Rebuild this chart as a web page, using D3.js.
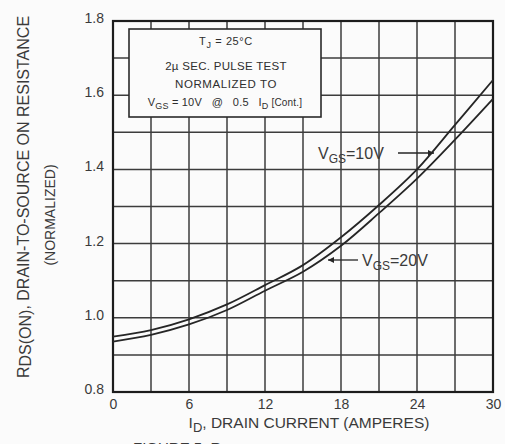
<!DOCTYPE html>
<html>
<head>
<meta charset="utf-8">
<script src="https://cdn.jsdelivr.net/npm/d3@7/dist/d3.min.js"></script>
<style>
  html, body { margin: 0; padding: 0; background: #fbfbfb; }
  svg { display: block; font-family: "Liberation Sans", Arial, sans-serif; }
</style>
</head>
<body>
<svg id="chart" width="505" height="444"></svg>
<script>
// ---- data ----
const current = [0, 3, 6, 9, 12, 15, 18, 21, 24, 27, 30];
const vgs10 = [0.949, 0.967, 0.996, 1.036, 1.088, 1.142, 1.217, 1.304, 1.400, 1.520, 1.641];
const vgs20 = [0.936, 0.954, 0.982, 1.021, 1.073, 1.124, 1.194, 1.282, 1.375, 1.480, 1.590];
const xTicks = [0, 6, 12, 18, 24, 30];
const yTicks = [0.8, 1.0, 1.2, 1.4, 1.6, 1.8];
const xGrid = [0, 3, 6, 9, 12, 15, 18, 21, 24, 27, 30];
const yGrid = [0.8, 0.9, 1.0, 1.1, 1.2, 1.3, 1.4, 1.5, 1.6, 1.7, 1.8];

const svg = d3.select("#chart");
const L = 113, R = 493, T = 21, B = 392;
const x = d3.scaleLinear().domain([0, 30]).range([L, R]);
const y = d3.scaleLinear().domain([0.8, 1.8]).range([B, T]);

const ink = "#262626";
const txt = "#3a3a3a";

// grid
svg.append("g").selectAll("line").data(xGrid).join("line")
  .attr("x1", d => x(d)).attr("x2", d => x(d)).attr("y1", T).attr("y2", B)
  .attr("stroke", "#3c3c3c").attr("stroke-width", 1.5);
svg.append("g").selectAll("line").data(yGrid).join("line")
  .attr("y1", d => y(d)).attr("y2", d => y(d)).attr("x1", L).attr("x2", R)
  .attr("stroke", "#3c3c3c").attr("stroke-width", 1.5);

// frame
svg.append("rect").attr("x", L).attr("y", T).attr("width", R - L).attr("height", B - T)
  .attr("fill", "none").attr("stroke", "#1c1c1c").attr("stroke-width", 2.2);

// axes tick labels via d3 axes (domain/ticks hidden)
const xAxis = svg.append("g").attr("transform", `translate(0,${B})`)
  .call(d3.axisBottom(x).tickValues(xTicks).tickSize(0).tickPadding(7).tickFormat(d3.format("d")));
xAxis.select(".domain").remove();
xAxis.selectAll("text").attr("font-size", 14).attr("fill", txt).attr("font-family", "Liberation Sans, Arial, sans-serif");

const yAxis = svg.append("g").attr("transform", `translate(${L},0)`)
  .call(d3.axisLeft(y).tickValues(yTicks).tickSize(0).tickPadding(9).tickFormat(d3.format(".1f")));
yAxis.select(".domain").remove();
yAxis.selectAll("text").attr("font-size", 14).attr("fill", txt).attr("font-family", "Liberation Sans, Arial, sans-serif")
  .attr("dy", "0.1em");

// curves
const line = d3.line().x((d, i) => x(current[i])).y(d => y(d)).curve(d3.curveCatmullRom.alpha(0.5));
[vgs10, vgs20].forEach(s => {
  svg.append("path").datum(s).attr("d", line).attr("fill", "none")
    .attr("stroke", ink).attr("stroke-width", 1.8);
});

// condition box
const bx = 129, by = 29, bw = 192, bh = 88;
svg.append("rect").attr("x", bx).attr("y", by).attr("width", bw).attr("height", bh)
  .attr("fill", "#fbfbfb").attr("stroke", "#2a2a2a").attr("stroke-width", 1.6);
const cx = bx + bw / 2 + 1;
const boxTxt = "#2e2e2e";
const t1 = svg.append("text").attr("x", cx).attr("y", 45).attr("text-anchor", "middle")
  .attr("font-size", 11).attr("fill", boxTxt).attr("letter-spacing", 0.6);
t1.append("tspan").text("T");
t1.append("tspan").attr("font-size", 9).attr("dy", 3).text("J");
t1.append("tspan").attr("dy", -3).text(" = 25°C");
svg.append("text").attr("x", cx).attr("y", 70).attr("text-anchor", "middle")
  .attr("font-size", 11.5).attr("fill", boxTxt).attr("letter-spacing", 0.3).text("2µ SEC. PULSE TEST");
svg.append("text").attr("x", cx).attr("y", 88).attr("text-anchor", "middle")
  .attr("font-size", 11.5).attr("fill", boxTxt).attr("letter-spacing", 0.6).text("NORMALIZED TO");
const t4 = svg.append("text").attr("x", cx - 1).attr("y", 106).attr("text-anchor", "middle")
  .attr("font-size", 11).attr("fill", boxTxt).attr("letter-spacing", 0.2).attr("xml:space", "preserve")
  .style("white-space", "pre");
t4.append("tspan").text("V");
t4.append("tspan").attr("font-size", 9).attr("dy", 3).text("GS");
t4.append("tspan").attr("dy", -3).text(" = 10V   @   0.5   I");
t4.append("tspan").attr("font-size", 9).attr("dy", 3).text("D");
t4.append("tspan").attr("dy", -3).attr("font-size", 10).text(" [Cont.]");

// curve labels with arrows
svg.append("defs").append("marker").attr("id", "ah").attr("viewBox", "0 0 10 10")
  .attr("refX", 10).attr("refY", 5).attr("markerWidth", 7).attr("markerHeight", 6)
  .attr("markerUnits", "userSpaceOnUse").attr("orient", "auto")
  .append("path").attr("d", "M0,0 L10,5 L0,10 Z").attr("fill", ink);

function vlabel(xp, yp, val) {
  const t = svg.append("text").attr("x", xp).attr("y", yp).attr("font-size", 16).attr("fill", txt);
  t.append("tspan").text("V");
  t.append("tspan").attr("font-size", 12).attr("dy", 4).text("GS");
  t.append("tspan").attr("dy", -4).text("=" + val);
}
vlabel(318, 159, "10V");
svg.append("line").attr("x1", 398).attr("y1", 153).attr("x2", 434).attr("y2", 153)
  .attr("stroke", ink).attr("stroke-width", 1.3).attr("marker-end", "url(#ah)");
vlabel(362, 266, "20V");
svg.append("line").attr("x1", 358).attr("y1", 260).attr("x2", 328).attr("y2", 260)
  .attr("stroke", ink).attr("stroke-width", 1.3).attr("marker-end", "url(#ah)");

// x-axis title
const xt = svg.append("text").attr("x", 309).attr("y", 428).attr("text-anchor", "middle")
  .attr("font-size", 15.5).attr("fill", txt);
xt.append("tspan").text("I");
xt.append("tspan").attr("font-size", 13).attr("dy", 4).text("D");
xt.append("tspan").attr("dy", -4).text(", DRAIN CURRENT (AMPERES)");

// y-axis title
const yt = svg.append("text").attr("transform", "translate(29,197) rotate(-90)")
  .attr("text-anchor", "middle").attr("font-size", 16).attr("fill", txt);
yt.append("tspan").text("R");
yt.append("tspan").attr("dy", 2).text("DS(ON)");
yt.append("tspan").attr("dy", -2).text(", DRAIN-TO-SOURCE ON RESISTANCE");
svg.append("text").attr("transform", "translate(55,215) rotate(-90)")
  .attr("text-anchor", "middle").attr("font-size", 14).attr("fill", txt).text("(NORMALIZED)");

// cut-off caption at bottom (partially visible in the reference)
svg.append("text").attr("x", 133).attr("y", 453).attr("font-size", 15).attr("fill", txt)
  .text("FIGURE 5. R");
</script>
</body>
</html>
